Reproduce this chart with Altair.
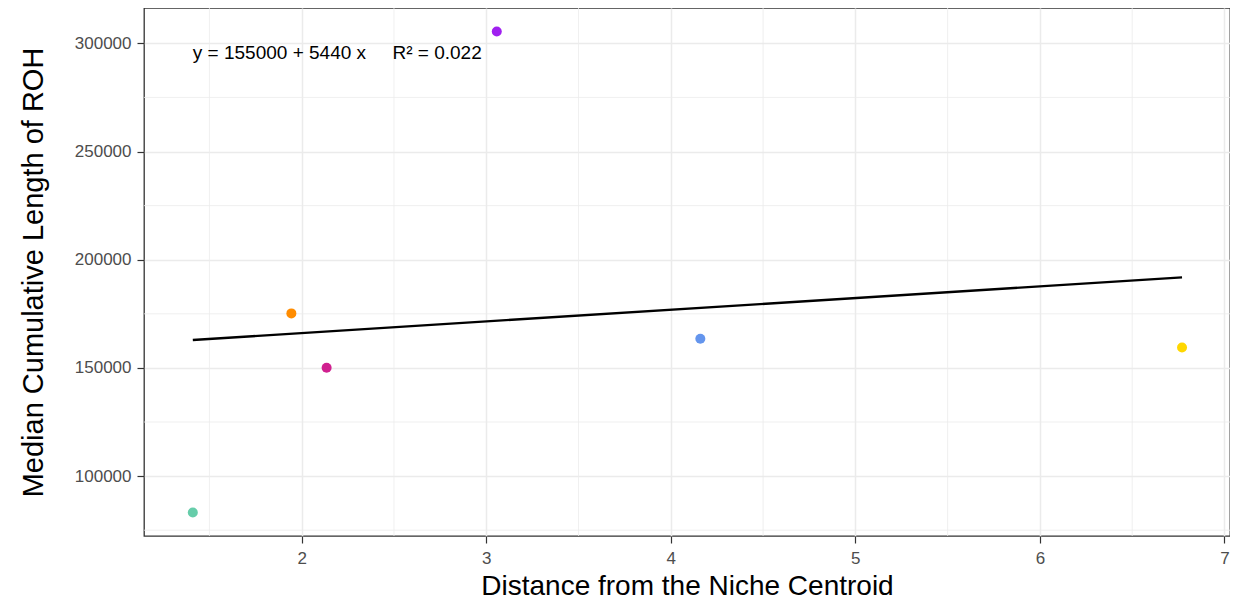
import altair as alt
import pandas as pd

groups = ["G1", "G2", "G3", "G4", "G5", "G6"]
distance = [1.41, 1.944, 2.135, 3.057, 4.16, 6.77]
roh = [83200, 175200, 150100, 305500, 163500, 159400]
colors = ["#66CDAA", "#FF8C00", "#D0208F", "#A020F0", "#6495ED", "#FFD700"]

x_major = [2, 3, 4, 5, 6, 7]
x_minor = [1.5, 2.5, 3.5, 4.5, 5.5, 6.5]
y_major = [100000, 150000, 200000, 250000, 300000]
y_minor = [75000, 125000, 175000, 225000, 275000]

GAP = "\u00a0" * 5
eq_label = ["y = 155000 + 5440 x" + GAP + "R² = 0.022"]
eq_x = [1.41]
eq_y = [295500]

FONT = "Liberation Sans"
XDOM = [1.1455, 7.030]
YDOM = [72325, 316328]

df = pd.DataFrame({"group": groups, "x": distance, "y": roh})

xs = alt.Scale(domain=XDOM, nice=False, zero=False)
ys = alt.Scale(domain=YDOM, nice=False, zero=False)

grid_minor_x = alt.Chart(pd.DataFrame({"v": x_minor})).mark_rule(
    color="#EBEBEB", strokeWidth=0.8
).encode(x=alt.X("v:Q", scale=xs))
grid_minor_y = alt.Chart(pd.DataFrame({"v": y_minor})).mark_rule(
    color="#EBEBEB", strokeWidth=0.8
).encode(y=alt.Y("v:Q", scale=ys))

line = alt.Chart(df).transform_regression("x", "y").mark_line(
    color="black", strokeWidth=2.4
).encode(x=alt.X("x:Q", scale=xs), y=alt.Y("y:Q", scale=ys))

points = alt.Chart(df).mark_circle(size=100, opacity=1).encode(
    x=alt.X(
        "x:Q",
        scale=xs,
        title="Distance from the Niche Centroid",
        axis=alt.Axis(values=x_major, format="d", labelPadding=7, titlePadding=6,
                      titleFontSize=28),
    ),
    y=alt.Y(
        "y:Q",
        scale=ys,
        title="Median Cumulative Length of ROH",
        axis=alt.Axis(values=y_major, format="d", labelPadding=6, titlePadding=26),
    ),
    color=alt.Color(
        "group:N", scale=alt.Scale(domain=groups, range=colors), legend=None
    ),
)

eq = alt.Chart(
    pd.DataFrame({"label": eq_label, "x": eq_x, "y": eq_y})
).mark_text(align="left", baseline="middle", font=FONT, fontSize=19, color="black").encode(
    x=alt.X("x:Q", scale=xs), y=alt.Y("y:Q", scale=ys), text="label:N"
)

chart = (
    alt.layer(grid_minor_x, grid_minor_y, line, points, eq)
    .properties(
        width=1086,
        height=528,
        autosize=alt.AutoSizeParams(type="none"),
        padding={"left": 136, "top": 0, "right": 0, "bottom": 65},
    )
    .configure_view(stroke="#333333", strokeWidth=1.3)
    .configure_axis(
        domain=False,
        grid=True,
        gridColor="#EBEBEB",
        gridWidth=1.5,
        tickColor="#333333",
        tickSize=7,
        tickWidth=1.2,
        labelFont=FONT,
        labelFontSize=17,
        labelColor="#4D4D4D",
        titleFont=FONT,
        titleFontSize=29,
        titleFontWeight="normal",
        titleColor="black",
    )
)

chart.save("out.html", embed_options={"renderer": "svg", "actions": False})
